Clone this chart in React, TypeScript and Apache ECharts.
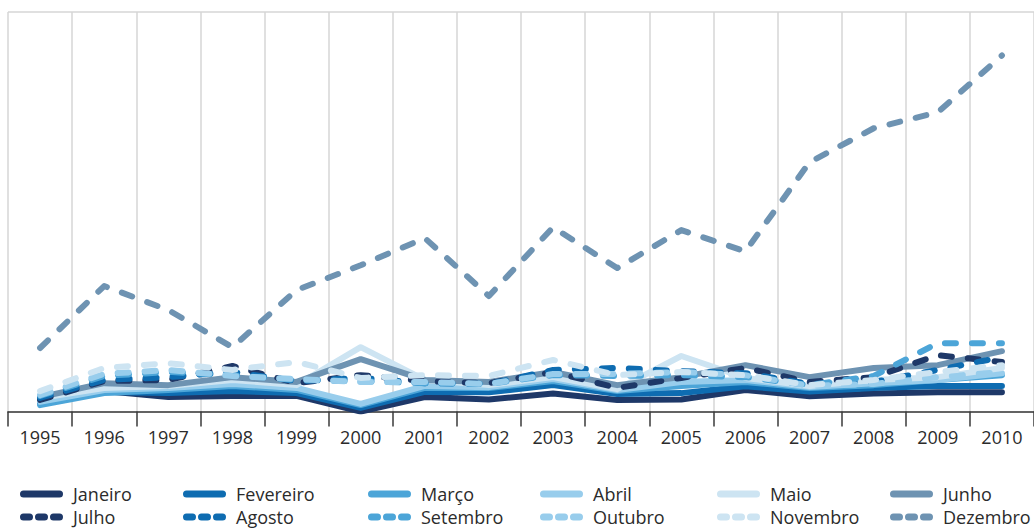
import React, { useEffect, useRef } from "react";
import * as echarts from "echarts";

const years = ["1995", "1996", "1997", "1998", "1999", "2000", "2001", "2002", "2003", "2004", "2005", "2006", "2007", "2008", "2009", "2010"];

const janeiro = [2.8, 5.1, 3.6, 3.9, 3.9, 0, 3.6, 3.0, 4.5, 2.9, 3.0, 5.4, 3.8, 4.5, 4.8, 4.8];
const fevereiro = [2.1, 4.9, 4.6, 5.1, 4.6, 0.9, 4.9, 4.8, 6.6, 4.4, 4.6, 6.3, 5.0, 5.9, 6.4, 6.4];
const marco = [1.6, 4.6, 5.4, 6.4, 5.4, 1.6, 5.9, 5.9, 7.6, 5.1, 6.4, 7.4, 5.9, 6.6, 7.9, 9.1];
const abril = [2.4, 5.4, 5.9, 6.9, 5.9, 1.9, 6.4, 6.1, 8.1, 5.4, 7.4, 7.9, 6.1, 7.1, 7.9, 9.6];
const maio = [3.4, 5.9, 6.4, 7.9, 6.6, 16.1, 7.9, 6.6, 8.6, 5.6, 13.9, 8.4, 6.4, 7.9, 8.6, 10.9];
const junho = [3.6, 7.1, 6.6, 8.6, 7.4, 13.1, 7.9, 7.4, 9.9, 6.6, 8.6, 11.6, 8.6, 10.9, 11.6, 15.1];
const julho = [2.9, 7.6, 7.9, 11.4, 7.1, 9.1, 7.6, 7.1, 9.9, 5.9, 8.4, 10.9, 7.4, 8.6, 14.1, 12.4];
const agosto = [3.4, 7.9, 8.6, 9.9, 7.6, 8.4, 7.1, 6.9, 10.4, 10.9, 10.1, 9.6, 6.9, 7.4, 10.4, 13.6];
const setembro = [3.9, 8.9, 9.9, 9.1, 7.9, 7.6, 7.1, 6.9, 9.1, 8.9, 9.1, 8.6, 6.6, 8.9, 17.1, 17.1];
const outubro = [4.1, 9.4, 10.4, 8.9, 8.1, 7.4, 7.4, 6.9, 9.4, 9.4, 9.9, 9.1, 6.4, 6.9, 8.6, 9.9];
const novembro = [5.1, 10.9, 12.1, 10.4, 12.4, 8.4, 9.1, 8.9, 12.9, 9.1, 9.9, 9.1, 6.6, 7.9, 9.9, 11.6];
const dezembro = [15.9, 31.4, 25.4, 16.1, 30.4, 36.6, 43.4, 28.9, 46.1, 35.9, 45.4, 40.1, 62.4, 70.9, 74.9, 89.1];

const seriesNames = ["Janeiro", "Fevereiro", "Março", "Abril", "Maio", "Junho", "Julho", "Agosto", "Setembro", "Outubro", "Novembro", "Dezembro"];
const seriesData = [janeiro, fevereiro, marco, abril, maio, junho, julho, agosto, setembro, outubro, novembro, dezembro];
const palette = ["#1e3868", "#0e6cb1", "#4ca5d8", "#98cdec", "#cde4f2", "#6e93b2"];

const legendCols = [20, 183, 368, 540, 717, 890];
const legendRows = [494, 517];
const FONT = "'Open Sans', 'Noto Sans', sans-serif";

export default function App() {
  const ref = useRef<HTMLDivElement>(null);
  useEffect(() => {
    if (!ref.current) return;
    const chart = echarts.init(ref.current, undefined, { renderer: "svg" });
    const series = seriesNames.map((name, i) => ({
      name,
      type: "line",
      data: seriesData[i],
      symbol: "none",
      smooth: false,
      lineStyle: {
        color: palette[i % 6],
        width: 6,
        type: i >= 6 ? [11, 16] : "solid",
        cap: "round",
        join: "round",
      },
      z: 2 + i,
    }));
    const graphic = seriesNames.map((name, i) => {
      const col = i % 6;
      const row = Math.floor(i / 6);
      return {
        type: "group",
        x: legendCols[col],
        y: legendRows[row],
        children: [
          {
            type: "line",
            shape: { x1: 3.5, y1: 0, x2: 39.5, y2: 0 },
            style: {
              stroke: palette[col],
              lineWidth: 7,
              lineCap: "round",
              lineDash: row === 1 ? [6, 9] : null,
            },
          },
          {
            type: "text",
            x: 53,
            y: 0,
            style: {
              text: name,
              fill: "#2b2b2b",
              fontSize: 18,
              lineHeight: 20,
              fontFamily: FONT,
              verticalAlign: "middle",
              align: "left",
            },
          },
        ],
      };
    });
    chart.setOption({
      animation: false,
      backgroundColor: "#ffffff",
      grid: { left: 8, right: -8, top: 12, bottom: 117.5, containLabel: false },
      xAxis: {
        type: "category",
        data: years,
        boundaryGap: true,
        axisLine: { show: true, lineStyle: { color: "#3a3a3a", width: 1.5 } },
        axisTick: { show: true, length: 15, interval: 0, lineStyle: { color: "#3a3a3a", width: 1.5 } },
        axisLabel: { interval: 0, color: "#2b2b2b", fontSize: 18, fontFamily: FONT, margin: 16 },
        splitLine: { show: true, interval: 0, lineStyle: { color: "#d6d6d6", width: 1.5 } },
      },
      yAxis: {
        type: "value",
        min: 0,
        max: 100,
        interval: 100,
        axisLine: { show: false },
        axisTick: { show: false },
        axisLabel: { show: false },
        splitLine: { show: true, lineStyle: { color: "#d6d6d6", width: 1.5 } },
      },
      series,
      graphic,
    });
    return () => chart.dispose();
  }, []);
  return (
    <div
      ref={ref}
      style={{ position: "fixed", left: 0, top: 0, width: 1034, height: 529, background: "#fff" }}
    />
  );
}
